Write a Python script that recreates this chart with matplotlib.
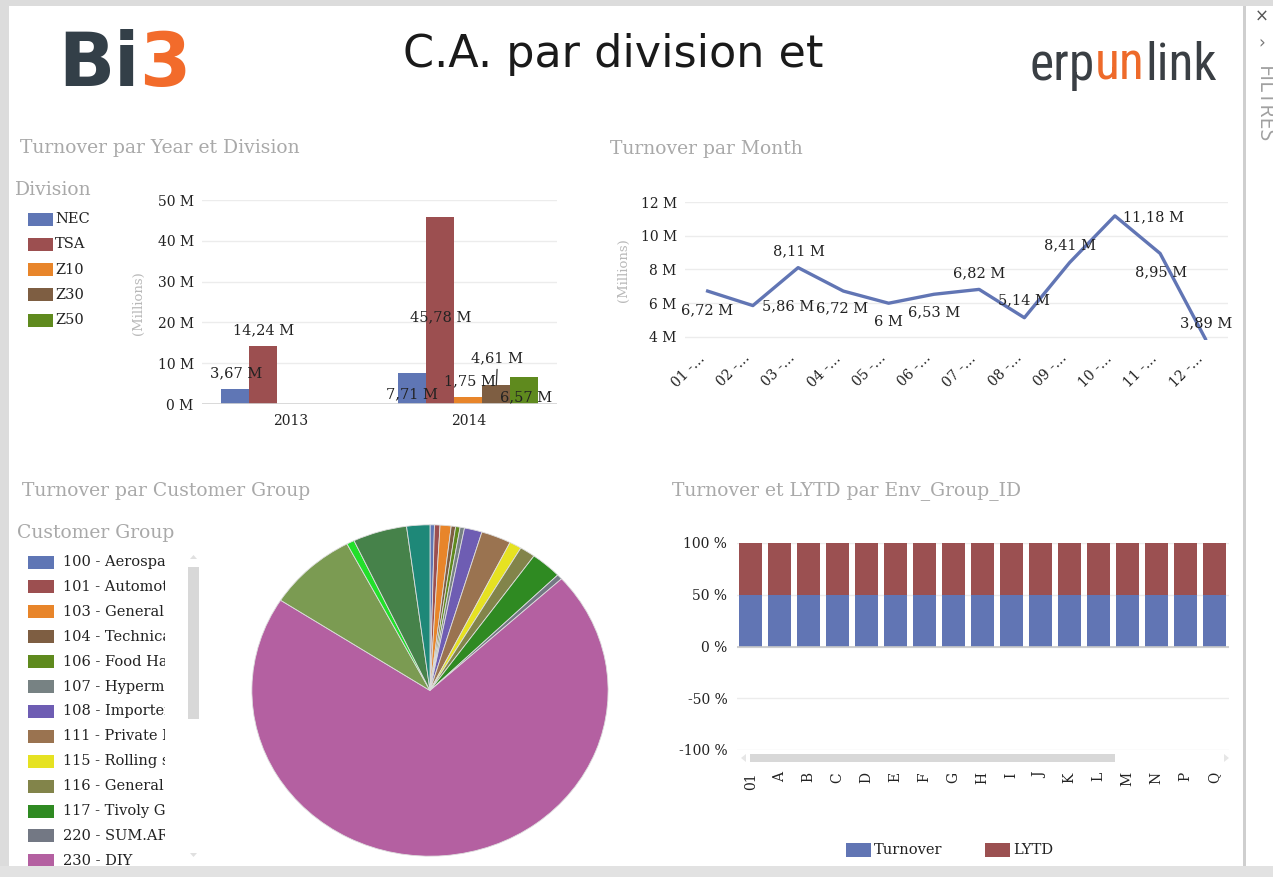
import numpy as np
import matplotlib
matplotlib.use('Agg')
import matplotlib.pyplot as plt
from matplotlib.patches import Rectangle, Polygon
from matplotlib.ticker import FuncFormatter
from matplotlib.transforms import Bbox, TransformedBbox

# --- donnees ---
years = ['2013', '2014']
divisions = ['NEC', 'TSA', 'Z10', 'Z30', 'Z50']
div_colors = ['#5f76b5', '#9c4f50', '#e8852a', '#7e5e42', '#5f8a1e']
turnover_2013 = [3.67, 14.24, np.nan, np.nan, np.nan]
turnover_2014 = [7.71, 45.78, 1.75, 4.61, 6.57]

months = ['01 -…', '02 -…', '03 -…', '04 -…', '05 -…', '06 -…',
          '07 -…', '08 -…', '09 -…', '10 -…', '11 -…', '12 -…']
turnover_month = [6.72, 5.86, 8.11, 6.72, 6.00, 6.53, 6.82, 5.14, 8.41, 11.18, 8.95, 3.89]

cust_groups = ['100 - Aerospace', '101 - Automotive', '103 - General Industry',
               '104 - Technical', '106 - Food Hardware', '107 - Hypermarkets',
               '108 - Importers', '111 - Private Label', '115 - Rolling stock',
               '116 - General Trade', '117 - Tivoly Group', '220 - SUM.AR',
               '230 - DIY', 'Autre 1', 'Autre 2', 'Autre 3', 'Autre 4']
cust_share = [0.4, 0.5, 1.0, 0.4, 0.4, 0.4, 1.6, 2.7, 1.1, 1.4, 2.8, 0.5,
              70.8, 8.1, 0.7, 4.9, 2.1]
cust_colors = ['#5f76b5', '#9c4f50', '#e8852a', '#7e5e42', '#5f8a1e', '#778283',
               '#6e5db3', '#9a7350', '#e6e222', '#82844a', '#2f8a22', '#737884',
               '#b460a1', '#7b9b52', '#22e02a', '#46824a', '#1e8878']

env_ids = ['01', 'A', 'B', 'C', 'D', 'E', 'F', 'G', 'H', 'I', 'J', 'K', 'L', 'M', 'N', 'P', 'Q']
turnover_pct = [50, 50, 50, 50, 50, 50, 50, 50, 50, 50, 50, 50, 50, 50, 50, 50, 50]
lytd_pct = [50, 50, 50, 50, 50, 50, 50, 50, 50, 50, 50, 50, 50, 50, 50, 50, 50]

W, H = 1273, 877
SERIF = 'DejaVu Serif'
DARK = '#222222'
GREY = '#a9a9a9'
GRID = '#ececec'
NARROW = ['Roboto Condensed', 'Liberation Sans Narrow', 'Roboto', 'DejaVu Sans']

fig = plt.figure(figsize=(W / 100, H / 100), dpi=100)
bg = fig.add_axes([0, 0, 1, 1])
bg.set_xlim(0, W)
bg.set_ylim(H, 0)
bg.axis('off')


def px_axes(x0, y0, x1, y1):
    return fig.add_axes([x0 / W, 1 - y1 / H, (x1 - x0) / W, (y1 - y0) / H])


def fmt_m(v):
    s = f'{v:.2f}'.rstrip('0').rstrip('.')
    return s.replace('.', ',') + ' M'


def style_axes(ax):
    for s in ax.spines.values():
        s.set_visible(False)
    ax.set_facecolor('none')
    ax.grid(axis='y', color=GRID, lw=1)
    ax.set_axisbelow(True)
    ax.tick_params(length=0, labelsize=10, labelcolor=DARK)


# --- cadre ---
bg.add_patch(Rectangle((0, 0), W, 6, color='#dcdcdc', lw=0))
bg.add_patch(Rectangle((0, 0), 9, H, color='#dcdcdc', lw=0))
bg.add_patch(Rectangle((0, 866), W, 11, color='#e2e2e2', lw=0))
bg.add_patch(Rectangle((1243, 6), 3, 860, color='#cfcfcf', lw=0))
bg.text(1262, 17, '×', ha='center', va='center', fontsize=12, color='#555555')
bg.text(1262, 43, '›', ha='center', va='center', fontsize=12, color='#777777')
bg.text(1263, 66, 'FILTRES', rotation=-90, ha='center', va='top', fontsize=15.5,
        color='#a0a0a0', family='Open Sans')

# --- en-tete ---
b = bg.text(58, 86, 'Bi', fontsize=53, fontweight='bold', color='#333f48',
            family='DejaVu Sans', va='baseline')
bg.annotate('3', xy=(1, 0), xycoords=b, va='bottom', fontsize=53, fontweight='bold',
            color='#f26b2b', family='DejaVu Sans')
bg.text(403, 67, 'C.A. par division et', fontsize=32, color='#1a1a1a',
        family='DejaVu Sans', va='baseline')
e1 = bg.text(1030, 80, 'erp', fontsize=37, color='#3a3f44', family=NARROW,
             va='baseline')
e2 = bg.annotate('un', xy=(1, 0), xycoords=e1, va='bottom', fontsize=37,
                 color='#ee6a2a', family=NARROW)
bg.annotate('link', xy=(1, 0), xycoords=e2, va='bottom', fontsize=37,
            color='#3a3f44', family=NARROW)

# --- titres des visuels ---
for x, y, t in [(20, 148, 'Turnover par Year et Division'),
                (610, 149, 'Turnover par Month'),
                (22, 491, 'Turnover par Customer Group'),
                (672, 491, 'Turnover et LYTD par Env_Group_ID')]:
    bg.text(x, y, t, fontsize=13.5, color=GREY, family=SERIF, va='center')

# --- 1. Turnover par Year et Division ---
ax1 = px_axes(202, 200, 557, 404)
style_axes(ax1)
xpos = np.arange(len(years))
bw = 0.158
by_year = [turnover_2013, turnover_2014]
for i, div in enumerate(divisions):
    vals = [by_year[0][i], by_year[1][i]]
    ax1.bar(xpos + (i - 2) * bw, vals, bw, color=div_colors[i], zorder=2)
ax1.set_xlim(-0.5, 1.5)
ax1.set_ylim(0, 50)
ax1.set_yticks([0, 10, 20, 30, 40, 50])
ax1.yaxis.set_major_formatter(FuncFormatter(lambda v, _: f'{int(v)} M'))
ax1.set_xticks(xpos)
ax1.set_xticklabels(years)
ax1.tick_params(axis='y', pad=6)
ax1.tick_params(axis='x', pad=7)
ax1.axhline(0, color='#d4d4d4', lw=1.2, zorder=3)
for lab in ax1.get_xticklabels() + ax1.get_yticklabels():
    lab.set_family(SERIF)
# decalage des etiquettes (px) : annee, division -> (dx, dy)
bar_lab_off = {(0, 0): (1, -16), (0, 1): (1, -16),
               (1, 0): (0, 22), (1, 1): (0, 100), (1, 2): (2, -16),
               (1, 3): (1, -27), (1, 4): (2, 20)}
for (yi, di), (dx, dy) in bar_lab_off.items():
    v = by_year[yi][di]
    kw = {}
    if (yi, di) == (1, 3):
        kw['arrowprops'] = dict(arrowstyle='-', color='#333333', lw=0.9,
                                relpos=(0.5, 0), shrinkA=1, shrinkB=0)
    ax1.annotate(fmt_m(v), xy=(yi + (di - 2) * bw, v), xytext=(dx * 0.72, -dy * 0.72),
                 textcoords='offset points', ha='center', va='center', fontsize=10.5,
                 family=SERIF, color=DARK, zorder=5, **kw)
fig.text(138 / W, 1 - 303 / H, '(Millions)', rotation=90, ha='center', va='center',
         fontsize=9.5, color='#b8b8b8', family=SERIF)
# legende Division
bg.text(15, 190, 'Division', fontsize=13.5, color=GREY, family=SERIF, va='center')
for i, div in enumerate(divisions):
    yc = 219 + i * 25.3
    bg.add_patch(Rectangle((28, yc - 6.5), 25, 13, color=div_colors[i], lw=0))
    bg.text(55, yc, div, fontsize=10.5, color=DARK, family=SERIF, va='center')

# --- 2. Turnover par Month ---
ax2 = px_axes(685, 202, 1228, 340)
style_axes(ax2)
xm = np.arange(len(months))
ax2.plot(xm, turnover_month, color='#6175b4', lw=2.4, zorder=3)
ax2.set_xlim(-0.5, 11.5)
ax2.set_ylim(3.82, 12)
ax2.set_yticks([4, 6, 8, 10, 12])
ax2.yaxis.set_major_formatter(FuncFormatter(lambda v, _: f'{int(v)} M'))
ax2.set_xticks(xm)
ax2.set_xticklabels(months, rotation=45, ha='right', va='top')
ax2.tick_params(axis='y', pad=6)
ax2.tick_params(axis='x', pad=8)
for lab in ax2.get_xticklabels() + ax2.get_yticklabels():
    lab.set_family(SERIF)
line_lab_off = [(-1, 19), (35, 1), (1, -16), (-1, 17), (0, 19), (0, 18),
                (0, -16), (0, -17), (0, -17), (39, 1), (1, 19), (1, -16)]
for i, v in enumerate(turnover_month):
    dx, dy = line_lab_off[i]
    ax2.annotate(fmt_m(v), xy=(i, v), xytext=(dx * 0.72, -dy * 0.72),
                 textcoords='offset points', ha='center', va='center', fontsize=10.5,
                 family=SERIF, color=DARK, zorder=5, annotation_clip=False)
fig.text(623 / W, 1 - 270 / H, '(Millions)', rotation=90, ha='center', va='center',
         fontsize=9.5, color='#b8b8b8', family=SERIF)

# --- 3. Turnover par Customer Group ---
ax3 = px_axes(251, 524, 609, 857)
ax3.pie(cust_share, colors=cust_colors, startangle=90, counterclock=False,
        wedgeprops=dict(edgecolor='#dedede', linewidth=0.6))
ax3.set_aspect('auto')
ax3.set_xlim(-1.005, 1.005)
ax3.set_ylim(-1.005, 1.005)
ax3.axis('off')
bg.text(17, 533, 'Customer Group', fontsize=13.5, color=GREY, family=SERIF, va='center')
clip = TransformedBbox(Bbox([[20, 545], [165, 866]]), bg.transData)
for i in range(13):
    yc = 562 + i * 24.9
    r = Rectangle((28, yc - 6.5), 26, 13, color=cust_colors[i], lw=0)
    bg.add_patch(r)
    r.set_clip_box(clip)
    t = bg.text(63, yc, cust_groups[i], fontsize=10.5, color=DARK, family=SERIF,
                va='center')
    t.set_clip_box(clip)
    t.set_clip_on(True)
bg.add_patch(Rectangle((188, 567), 11, 152, color='#d8d8d8', lw=0))
bg.add_patch(Polygon([[190, 559], [197, 559], [193.5, 555]], closed=True, color='#e0e0e0', lw=0))
bg.add_patch(Polygon([[190, 853], [197, 853], [193.5, 857]], closed=True, color='#e0e0e0', lw=0))

# --- 4. Turnover et LYTD par Env_Group_ID ---
ax4 = px_axes(737, 543, 1229, 750)
style_axes(ax4)
xe = np.arange(len(env_ids))
ax4.bar(xe, turnover_pct, 0.8, color='#6175b4', zorder=2, label='Turnover')
ax4.bar(xe, lytd_pct, 0.8, bottom=turnover_pct, color='#9b5051', zorder=2, label='LYTD')
ax4.axhline(0, color='#c8c8c8', lw=1.2, zorder=3)
ax4.set_xlim(-0.47, 16.5)
ax4.set_ylim(-100, 100)
ax4.set_yticks([-100, -50, 0, 50, 100])
ax4.yaxis.set_major_formatter(FuncFormatter(lambda v, _: f'{int(v)} %'))
ax4.set_xticks(xe)
ax4.set_xticklabels(env_ids, rotation=90, ha='center', va='top')
ax4.tick_params(axis='y', pad=7)
ax4.tick_params(axis='x', pad=16)
for lab in ax4.get_xticklabels() + ax4.get_yticklabels():
    lab.set_family(SERIF)
bg.add_patch(Rectangle((750, 754), 365, 8, color='#d8d8d8', lw=0))
bg.add_patch(Polygon([[746, 754], [746, 762], [741, 758]], closed=True, color='#e6e6e6', lw=0))
bg.add_patch(Polygon([[1224, 754], [1224, 762], [1229, 758]], closed=True, color='#e6e6e6', lw=0))
for x0, lab, col in [(846, 'Turnover', '#6175b4'), (985, 'LYTD', '#9b5051')]:
    bg.add_patch(Rectangle((x0, 843), 25, 14, color=col, lw=0))
    bg.text(x0 + 28, 850, lab, fontsize=10.5, color=DARK, family=SERIF, va='center')

fig.savefig('out.png', dpi=100, facecolor='white')
